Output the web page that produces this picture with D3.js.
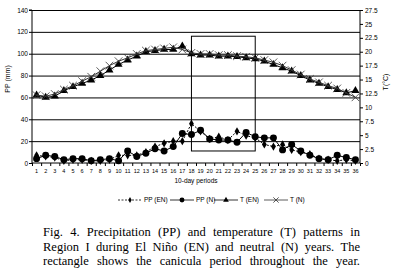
<!DOCTYPE html>
<html>
<head>
<meta charset="utf-8">
<script src="https://cdn.jsdelivr.net/npm/d3@7"></script>
<style>
body { margin: 0; background: #fff; }
svg { display: block; }
</style>
</head>
<body>
<svg id="chart" width="397" height="274"></svg>
<script>
// 10-day periods
const periods = [1, 2, 3, 4, 5, 6, 7, 8, 9, 10, 11, 12, 13, 14, 15, 16, 17, 18,
    19, 20, 21, 22, 23, 24, 25, 26, 27, 28, 29, 30, 31, 32, 33, 34, 35, 36];

// precipitation (mm)
const ppEN = [7, 6, 5, 2, 3, 3, 2, 2, 3, 7, 7, 7, 10, 15, 18, 20, 20, 36,
    29, 22, 24, 21, 29, 25, 23, 17, 15, 17, 12, 10, 8, 4, 3, 2, 3, 2];
const ppN = [4, 7, 6, 3, 4, 4, 2, 3, 4, 2, 11, 6, 9, 13, 11, 15, 27, 26,
    30, 22, 21, 21, 19, 28, 24, 23, 23, 12, 17, 11, 7, 4, 3, 7, 5, 3];

// temperature (°C)
const tEN = [12.2, 11.8, 12.0, 13.0, 13.7, 14.3, 14.9, 15.7, 16.7, 17.7, 18.5, 19.2,
    20.0, 20.2, 20.4, 20.4, 21.0, 19.6, 19.4, 19.4, 19.2, 19.2, 19.1, 18.9,
    18.7, 18.3, 17.7, 17.1, 16.5, 15.7, 14.9, 14.3, 13.7, 13.2, 12.6, 13.0];
const tN = [12.2, 12.0, 12.4, 13.2, 13.9, 14.7, 15.5, 16.5, 17.5, 18.3, 18.9, 19.6,
    20.2, 20.4, 20.6, 20.8, 20.4, 19.8, 19.6, 19.6, 19.4, 19.4, 19.2, 19.1,
    18.9, 18.5, 18.1, 17.5, 16.7, 15.9, 15.1, 14.5, 13.9, 13.4, 12.6, 11.8];

// axis ticks
const ppTicks = [0, 20, 40, 60, 80, 100, 120, 140];
const tTicks = [0, 2.5, 5, 7.5, 10, 12.5, 15, 17.5, 20, 22.5, 25, 27.5];

// canicula box: periods and PP range
const caniculaPeriods = [18, 25];
const caniculaPP = [11, 116];

const captionLines = [
    "Fig. 4. Precipitation (PP) and temperature (T) patterns in",
    "Region I during El Niño (EN) and neutral (N) years. The",
    "rectangle shows the canicula period throughout the year."
];

let svg = d3.select("#chart");
let plotL = 32, plotR = 360, plotT = 10, plotB = 163;
let sans = "Liberation Sans, Arial, sans-serif";

let x = d3.scaleBand().domain(periods).range([plotL, plotR]);
let xc = p => x(p) + x.bandwidth() / 2;
let yPP = d3.scaleLinear().domain([0, 140]).range([plotB, plotT]);
let yT = d3.scaleLinear().domain([0, 27.5]).range([plotB, plotT]);

// gridlines
svg.append("g")
    .attr("transform", `translate(${plotL},0)`)
    .call(d3.axisLeft(yPP).tickValues(ppTicks.slice(1)).tickSize(-(plotR - plotL)).tickFormat(""))
    .call(g => g.select(".domain").remove())
    .selectAll("line").attr("stroke", "#000").attr("stroke-width", 1);

// left axis
svg.append("g")
    .attr("transform", `translate(${plotL},0)`)
    .call(d3.axisLeft(yPP).tickValues(ppTicks).tickSize(3).tickPadding(1))
    .call(g => g.selectAll("text").attr("font-size", 6.5).attr("font-family", sans))
    .call(g => g.select(".domain").attr("d", `M-3,${plotT}H0V${plotB}`));

// right axis
svg.append("g")
    .attr("transform", `translate(${plotR},0)`)
    .call(d3.axisRight(yT).tickValues(tTicks).tickSize(3).tickPadding(2).tickFormat(d => d))
    .call(g => g.selectAll("text").attr("font-size", 6.5).attr("font-family", sans))
    .call(g => g.select(".domain").attr("d", `M0,${plotT}V${plotB}`));

// bottom axis: marks between categories, labels at centers
let xEdges = d3.scaleLinear().domain([0, periods.length]).range([plotL, plotR]);
svg.append("g")
    .attr("transform", `translate(0,${plotB})`)
    .call(d3.axisBottom(xEdges).ticks(periods.length).tickSize(3).tickFormat(""))
    .call(g => g.select(".domain").attr("d", `M${plotL},0H${plotR}`));
svg.append("g")
    .attr("transform", `translate(0,${plotB})`)
    .call(d3.axisBottom(x).tickSize(0).tickPadding(6))
    .call(g => g.select(".domain").remove())
    .call(g => g.selectAll("text").attr("font-size", 5.5).attr("font-family", sans));

// axis titles
svg.append("text")
    .attr("x", (plotL + plotR) / 2).attr("y", 183)
    .attr("text-anchor", "middle")
    .attr("font-size", 6.5).attr("font-family", sans)
    .text("10-day periods");
svg.append("text")
    .attr("transform", "translate(10,79) rotate(-90)")
    .attr("text-anchor", "middle")
    .attr("font-size", 7).attr("font-family", sans)
    .text("PP (mm)");
svg.append("text")
    .attr("transform", "translate(388,82) rotate(-90)")
    .attr("text-anchor", "middle")
    .attr("font-size", 7).attr("font-family", sans)
    .text("T(°C)");

// canicula rectangle
svg.append("rect")
    .attr("x", xc(caniculaPeriods[0]))
    .attr("y", yPP(caniculaPP[1]))
    .attr("width", xc(caniculaPeriods[1]) - xc(caniculaPeriods[0]))
    .attr("height", yPP(caniculaPP[0]) - yPP(caniculaPP[1]))
    .attr("fill", "none").attr("stroke", "#000").attr("stroke-width", 1);

let series = [
    { name: "PP (EN)", values: ppEN, y: yPP, dash: "2,1.5", color: "#000", symbol: d3.symbolDiamond, size: 20, fill: true },
    { name: "PP (N)", values: ppN, y: yPP, dash: null, color: "#000", symbol: d3.symbolCircle, size: 38, fill: true },
    { name: "T (EN)", values: tEN, y: yT, dash: null, color: "#000", symbol: d3.symbolTriangle, size: 28, fill: true },
    { name: "T (N)", values: tN, y: yT, dash: null, color: "#333", symbol: d3.symbolTimes, size: 40, fill: false }
];

series.forEach(s => {
    let line = d3.line().x((d, i) => xc(periods[i])).y(d => s.y(d));
    svg.append("path")
        .datum(s.values)
        .attr("d", line)
        .attr("fill", "none")
        .attr("stroke", s.color)
        .attr("stroke-width", 1)
        .attr("stroke-dasharray", s.dash);
    svg.append("g").selectAll("path")
        .data(s.values)
        .enter().append("path")
        .attr("transform", (d, i) => `translate(${xc(periods[i])},${s.y(d)})`)
        .attr("d", d3.symbol(s.symbol, s.size))
        .attr("fill", s.fill ? s.color : "none")
        .attr("stroke", s.fill ? "none" : s.color)
        .attr("stroke-width", 0.8);
});

// legend
let legendX = [118, 170, 214, 264];
let legend = svg.append("g").attr("transform", "translate(0,200)");
series.forEach((s, i) => {
    let g = legend.append("g").attr("transform", `translate(${legendX[i]},0)`);
    g.append("line").attr("x1", 0).attr("x2", 24)
        .attr("stroke", s.color).attr("stroke-width", 0.8)
        .attr("stroke-dasharray", s.dash);
    g.append("path").attr("transform", "translate(12,0)")
        .attr("d", d3.symbol(s.symbol, s.size * 0.5))
        .attr("fill", s.fill ? s.color : "none")
        .attr("stroke", s.fill ? "none" : s.color)
        .attr("stroke-width", 0.8);
    g.append("text").attr("x", 26).attr("y", 2.3)
        .attr("font-size", 6.5).attr("font-family", sans)
        .text(s.name);
});

// caption, justified
let capLeft = 43, capRight = 360;
captionLines.forEach((line, li) => {
    let words = line.split(" ");
    let t = svg.append("g");
    let widths = words.map(w => {
        let n = t.append("text").attr("font-family", "Liberation Serif, Times New Roman, serif")
            .attr("font-size", 12.5).text(w);
        return { node: n, w: n.node().getComputedTextLength() };
    });
    let total = d3.sum(widths, d => d.w);
    let gap = (capRight - capLeft - total) / (words.length - 1);
    let cx = capLeft;
    widths.forEach(d => {
        d.node.attr("x", cx).attr("y", 236 + li * 14.5);
        cx += d.w + gap;
    });
});
</script>
</body>
</html>
